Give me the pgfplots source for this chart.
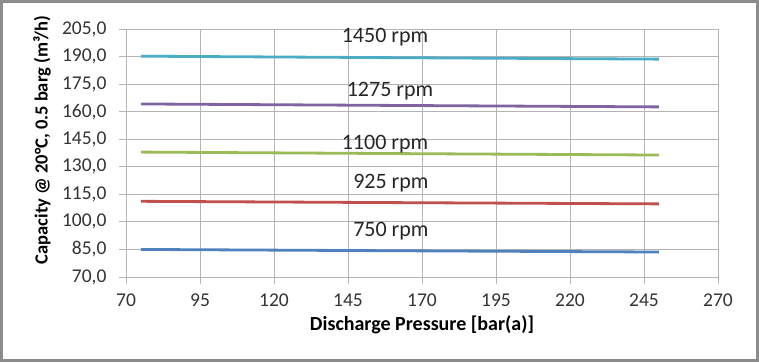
\documentclass[border=0pt]{standalone}
\usepackage{fontspec}
\setmainfont{Carlito}
\usepackage{pgfplots}
\pgfplotsset{compat=1.18}
\definecolor{cA}{HTML}{4BACC6}
\definecolor{cB}{HTML}{8064A2}
\definecolor{cC}{HTML}{9BBB59}
\definecolor{cD}{HTML}{C0504D}
\definecolor{cE}{HTML}{4F81BD}
\definecolor{gridc}{HTML}{B4B4B4}
\begin{document}
\begin{tikzpicture}[x=1pt,y=1pt]
\path[use as bounding box] (-126,-85) rectangle (633,277);
\draw[line width=2.5pt, color=black!45] (-124.5,-83.5) rectangle (631.5,275.5);
\begin{axis}[at={(0,0)}, anchor=south west, scale only axis,
  width=592pt, height=248pt,
  xmin=70, xmax=270, ymin=70, ymax=205,
  xtick={70,95,...,270}, ytick={70,85,...,205},
  xtick pos=bottom, ytick pos=left,
  grid=major, grid style={gridc, line width=0.8pt},
  axis line style={gridc, line width=0.8pt},
  tick style={gridc, line width=0.8pt},
  tick align=outside, major tick length=7pt,
  /pgf/number format/assume math mode=true,
  ticklabel style={font=\fontsize{19.5}{22}\selectfont, text=black!80},
  yticklabel style={xshift=-9pt, /pgf/number format/.cd, fixed, fixed zerofill, precision=1, use comma},
  xticklabel style={yshift=-6pt, /pgf/number format/.cd, fixed, precision=0},
  xlabel={Discharge Pressure [bar(a)]},
  ylabel={Capacity @ 20°C, 0.5 barg (m³/h)},
  every axis x label/.style={at={(axis description cs:0.5,0)}, anchor=center, yshift=-48pt, font=\bfseries\fontsize{20}{23}\selectfont},
  every axis y label/.style={at={(axis description cs:0,0.5)}, anchor=center, xshift=-84pt, yshift=13pt, rotate=90, font=\bfseries\fontsize{18.5}{22}\selectfont},
  clip=false,
]
\addplot[cA, line width=2.8pt] coordinates {(75,190.2) (160,189.4) (250,188.6)};
\addplot[cB, line width=2.8pt] coordinates {(75,164.2) (160,163.4) (250,162.6)};
\addplot[cC, line width=2.8pt] coordinates {(75,138.0) (160,137.2) (250,136.4)};
\addplot[cD, line width=2.8pt] coordinates {(75,111.2) (160,110.5) (250,109.8)};
\addplot[cE, line width=2.8pt] coordinates {(75,85.0) (160,84.3) (250,83.6)};
\begin{scope}[every node/.style={font=\fontsize{22}{26}\selectfont, text=black!85}]
\node at (axis cs:157.5,200.6) {1450 rpm};
\node at (axis cs:159.2,171.2) {1275 rpm};
\node at (axis cs:157.5,142.4) {1100 rpm};
\node at (axis cs:159.5,121.2) {925 rpm};
\node at (axis cs:159.5,95.0) {750 rpm};
\end{scope}
\end{axis}
\end{tikzpicture}
\end{document}
